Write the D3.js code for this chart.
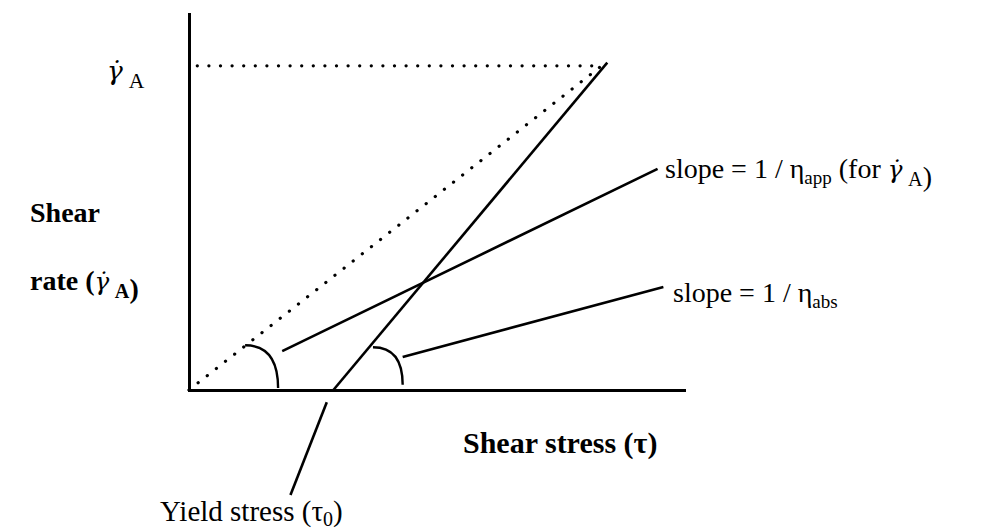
<!DOCTYPE html>
<html>
<head>
<meta charset="utf-8">
<script src="https://cdn.jsdelivr.net/npm/d3@7"></script>
<style>
  html, body { margin: 0; padding: 0; background: #fff; }
  svg { display: block; }
  text { font-family: "Liberation Serif", "Times New Roman", serif; fill: #000; }
</style>
</head>
<body>
<svg id="chart" width="985" height="532"></svg>
<script>
// Bingham plastic: shear rate vs shear stress (schematic units)
const stressDomain = [0, 6];
const rateDomain = [0, 5.8];

const yieldStress = 1.75;       // tau_0
const stressA = 5;              // stress at the reference shear rate
const rateA = 5;                // gamma-dot_A

// Bingham flow curve (solid), slightly overshooting gamma-dot_A
const binghamCurve = [[yieldStress, 0], [5.07, 5.05]];
// Secant from the origin to (tau_A, gamma-dot_A) (dotted)
const apparentSecant = [[0, 0], [stressA, rateA]];
// Reference level gamma-dot_A (dotted)
const rateALevel = [[0.1, rateA], [stressA, rateA]];

// Angle markers: [start on the line, end on the stress axis]
const angleMarkers = [
  [[0.68, 0.69], [1.08, 0.03]],
  [[2.23, 0.66], [2.59, 0.08]]
];

// Leader lines from the marks to their labels
const leaders = [
  [[1.13, 0.60], [5.68, 3.41]],     // apparent slope
  [[2.59, 0.51], [5.75, 1.59]],     // absolute slope
  [[1.67, -0.19], [1.23, -1.62]]    // yield stress
];

const svg = d3.select("#chart");
const x = d3.scaleLinear().domain(stressDomain).range([189, 684]);
const y = d3.scaleLinear().domain(rateDomain).range([390, 14]);

const line = d3.line().x(d => x(d[0])).y(d => y(d[1]));

// Axes without ticks
const xAxis = svg.append("g")
  .attr("transform", `translate(0,${y(0)})`)
  .call(d3.axisBottom(x).tickValues([]).tickSizeOuter(0));
const yAxis = svg.append("g")
  .attr("transform", `translate(${x(0)},0)`)
  .call(d3.axisLeft(y).tickValues([]).tickSizeOuter(0));
[xAxis, yAxis].forEach(g => g.select(".domain")
  .attr("stroke", "#000").attr("stroke-width", 3).attr("stroke-linecap", "square"));

// Dotted reference lines
[rateALevel, apparentSecant].forEach(pts => {
  svg.append("path").attr("d", line(pts))
    .attr("fill", "none").attr("stroke", "#000")
    .attr("stroke-width", 3.2).attr("stroke-linecap", "round")
    .attr("stroke-dasharray", "0.1 11.5");
});

// Bingham curve
svg.append("path").attr("d", line(binghamCurve))
  .attr("fill", "none").attr("stroke", "#000").attr("stroke-width", 2.6);

// Angle markers (curved)
angleMarkers.forEach(([s, e]) => {
  const p = d3.path();
  p.moveTo(x(s[0]), y(s[1]));
  p.quadraticCurveTo(x(e[0]), y(s[1]), x(e[0]), y(e[1]));
  svg.append("path").attr("d", p.toString())
    .attr("fill", "none").attr("stroke", "#000").attr("stroke-width", 2.4);
});

// Leader lines
leaders.forEach(pts => {
  svg.append("path").attr("d", line(pts))
    .attr("fill", "none").attr("stroke", "#000").attr("stroke-width", 2.6);
});

// Appends gamma-dot (combining dot above) followed by a lowered "A"
function gammaDotA(t, size) {
  t.append("tspan")
    .style("font-family", "'DejaVu Serif', serif")
    .style("font-style", "italic").style("font-weight", "normal")
    .style("font-size", (size * 0.88) + "px")
    .text("γ\u0307");
  t.append("tspan").attr("dx", size * 0.2).attr("dy", size * 0.28)
    .style("font-size", (size * 0.72) + "px").text("A");
  t.append("tspan").attr("dy", -size * 0.28).text("");
}

// gamma-dot_A level label
const topLabel = svg.append("text").attr("x", 107).attr("y", 80).style("font-size", "30px");
gammaDotA(topLabel, 30);

// Vertical axis title
svg.append("text").attr("x", 30).attr("y", 222)
  .style("font-size", "28px").style("font-weight", "bold").text("Shear");
const rateLabel = svg.append("text").attr("x", 30).attr("y", 290)
  .style("font-size", "28px").style("font-weight", "bold");
rateLabel.append("tspan").text("rate (");
gammaDotA(rateLabel, 28);
rateLabel.append("tspan").text(")");

// Horizontal axis title
svg.append("text").attr("x", 463).attr("y", 453)
  .style("font-size", "30px").style("font-weight", "bold").text("Shear stress (τ)");

// Yield stress label
const ys = svg.append("text").attr("x", 160).attr("y", 521).style("font-size", "29px");
ys.append("tspan").text("Yield stress (τ");
ys.append("tspan").attr("dy", 5).style("font-size", "20px").text("0");
ys.append("tspan").attr("dy", -5).text(")");

// Absolute viscosity slope label
const abs = svg.append("text").attr("x", 673).attr("y", 302).style("font-size", "28px");
abs.append("tspan").text("slope = 1 / η");
abs.append("tspan").attr("dy", 6).style("font-size", "19px").text("abs");

// Apparent viscosity slope label
const app = svg.append("text").attr("x", 665).attr("y", 178).style("font-size", "28px");
app.append("tspan").text("slope = 1 / η");
app.append("tspan").attr("dy", 6).style("font-size", "19px").text("app");
app.append("tspan").attr("dy", -6).text("\u00a0(for\u00a0");
gammaDotA(app, 28);
app.append("tspan").text(")");
</script>
</body>
</html>
